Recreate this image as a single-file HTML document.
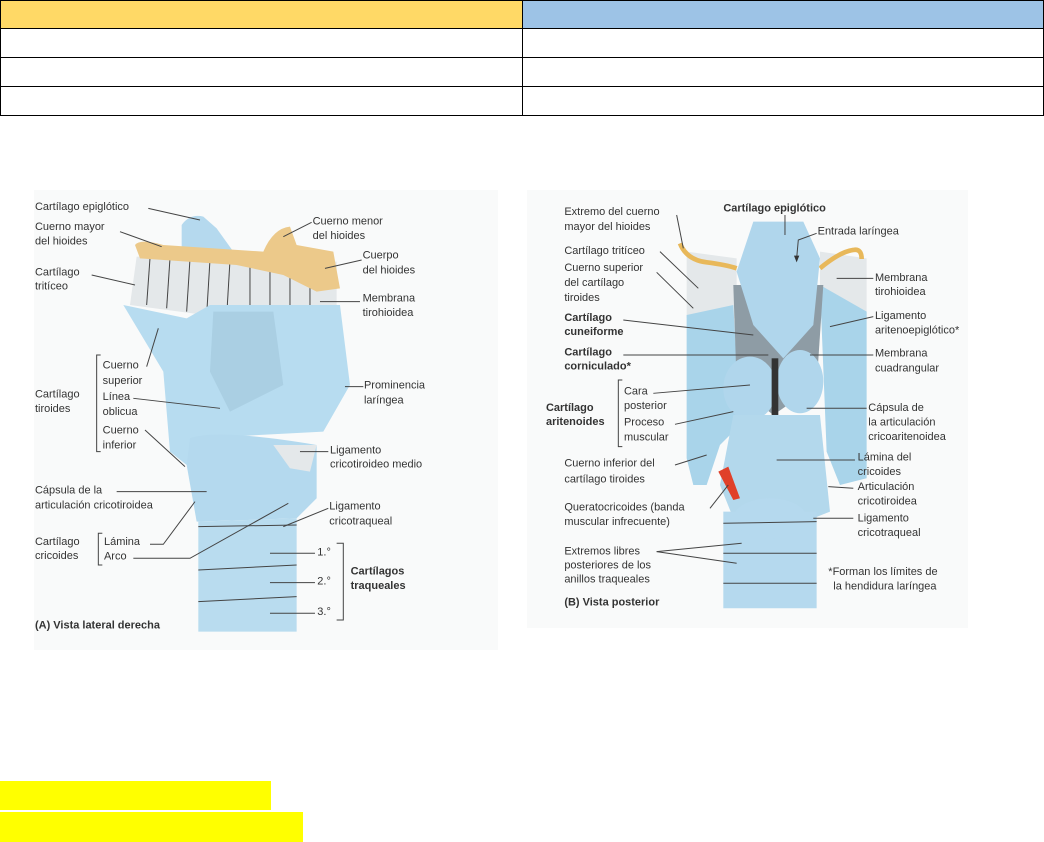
<!DOCTYPE html>
<html><head><meta charset="utf-8"><style>
html,body{margin:0;padding:0;background:#fff;width:1044px;height:842px;overflow:hidden;position:relative;font-family:"Liberation Sans",sans-serif}
.tb{position:absolute;left:0;top:0;width:1044px;border-collapse:collapse}
.tb td{border:1.5px solid #000;padding:0;height:27px}
.tb tr.r td{height:28px}
.hl{position:absolute;left:0;background:#ffff00}
svg{position:absolute;left:0;top:0}
text{font-family:"Liberation Sans",sans-serif;font-size:33px;fill:#333}
.b{font-weight:bold}
line,polyline{stroke:#444;stroke-width:3;fill:none}
</style></head><body>
<table class="tb"><tr><td style="width:521px;background:#ffd966"></td><td style="background:#9dc3e6"></td></tr>
<tr class="r"><td></td><td></td></tr><tr class="r"><td></td><td></td></tr><tr class="r"><td></td><td></td></tr></table>
<div class="hl" style="top:781px;width:271px;height:29px"></div>
<div class="hl" style="top:812px;width:303px;height:30px"></div>
<svg width="1044" height="842">
<rect x="34" y="190" width="464" height="460" fill="#f9fafa"/>
<rect x="527" y="190" width="441" height="438" fill="#f9fafa"/>
<g transform="translate(30,185) scale(0.3333)">
<path d="M455,120 Q480,85 520,95 L560,130 L610,200 L455,200 Z" fill="#b5d9ee"/>
<path d="M320,215 L920,230 L920,360 L600,400 L300,360 Z" fill="#e4e8ea"/>
<g stroke="#c8cfd3" stroke-width="3"><line x1="360" y1="220" x2="350" y2="360"/><line x1="420" y1="220" x2="410" y2="370"/><line x1="480" y1="222" x2="470" y2="380"/><line x1="540" y1="224" x2="530" y2="390"/><line x1="600" y1="226" x2="590" y2="395"/><line x1="660" y1="228" x2="660" y2="380"/><line x1="720" y1="240" x2="720" y2="370"/><line x1="780" y1="260" x2="780" y2="365"/><line x1="840" y1="280" x2="840" y2="360"/></g>
<path d="M315,180 Q330,160 400,180 L700,200 Q730,130 780,125 L800,180 L910,200 L930,310 L860,320 L760,270 L620,240 L330,220 Z" fill="#ecc98a"/>
<path d="M280,360 L470,400 L540,360 L930,360 L960,600 L880,740 L500,760 L470,840 L420,800 L400,560 Z" fill="#b7dcf0"/>
<path d="M550,380 L730,380 L760,600 L600,680 L540,560 Z" fill="#aacfe3"/>
<path d="M480,760 Q560,730 860,780 L860,940 L800,1000 L500,1010 L470,840 Z" fill="#b4d9ee"/>
<path d="M730,780 L860,780 L840,860 L780,850 Z" fill="#e4e8ea"/>
<path d="M505,1010 L800,1000 L800,1340 L505,1340 Z" fill="#b9dcef"/>
<g stroke="#9aa5ac" stroke-width="10"><line x1="505" y1="1025" x2="800" y2="1020"/><line x1="505" y1="1155" x2="800" y2="1140"/><line x1="505" y1="1250" x2="800" y2="1235"/></g>
<text x="15" y="75">Cartílago epiglótico</text><line x1="355" y1="70" x2="510" y2="105"/>
<text x="15" y="135">Cuerno mayor</text><text x="15" y="178">del hioides</text><line x1="270" y1="140" x2="395" y2="185"/>
<text x="15" y="272">Cartílago</text><text x="15" y="313">tritíceo</text><line x1="185" y1="270" x2="315" y2="300"/>
<text x="848" y="118">Cuerno menor</text><text x="848" y="162">del hioides</text><line x1="845" y1="112" x2="760" y2="155"/>
<text x="998" y="220">Cuerpo</text><text x="998" y="265">del hioides</text><line x1="995" y1="225" x2="885" y2="250"/>
<text x="998" y="350">Membrana</text><text x="998" y="393">tirohioidea</text><line x1="990" y1="350" x2="870" y2="350"/>
<text x="1002" y="610">Prominencia</text><text x="1002" y="655">laríngea</text><line x1="1000" y1="605" x2="945" y2="605"/>
<text x="900" y="805">Ligamento</text><text x="900" y="848">cricotiroideo medio</text><line x1="895" y1="800" x2="810" y2="800"/>
<text x="898" y="973">Ligamento</text><text x="898" y="1018">cricotraqueal</text><line x1="895" y1="970" x2="760" y2="1025"/>
<polyline points="212,510 200,510 200,800 212,800"/>
<text x="218" y="550">Cuerno</text><text x="218" y="597">superior</text><text x="218" y="645">Línea</text><text x="218" y="690">oblicua</text><text x="218" y="745">Cuerno</text><text x="218" y="790">inferior</text>
<text x="15" y="638">Cartílago</text><text x="15" y="681">tiroides</text>
<line x1="350" y1="545" x2="385" y2="430"/><line x1="310" y1="640" x2="570" y2="670"/><line x1="345" y1="735" x2="465" y2="845"/>
<text x="15" y="925">Cápsula de la</text><text x="15" y="970">articulación cricotiroidea</text><line x1="260" y1="920" x2="530" y2="920"/>
<text x="15" y="1080">Cartílago</text><text x="15" y="1122">cricoides</text>
<polyline points="217,1045 205,1045 205,1140 217,1140"/>
<text x="222" y="1080">Lámina</text><text x="222" y="1124">Arco</text>
<polyline points="360,1078 400,1078 495,950"/><polyline points="310,1120 480,1120 775,955"/>
<text x="862" y="1112">1.°</text><text x="862" y="1198">2.°</text><text x="862" y="1290">3.°</text>
<line x1="720" y1="1105" x2="855" y2="1105"/><line x1="720" y1="1193" x2="855" y2="1193"/><line x1="720" y1="1285" x2="855" y2="1285"/>
<polyline points="920,1075 940,1075 940,1305 920,1305"/>
<text x="962" y="1168" class="b">Cartílagos</text><text x="962" y="1212" class="b">traqueales</text>
<text x="15" y="1330" class="b">(A) Vista lateral derecha</text>
</g>
<g transform="translate(520,185) scale(0.3333)">
<path d="M500,200 L650,220 L650,400 L500,400 Z" fill="#e4e8ea"/><path d="M900,200 L1040,220 L1040,400 L900,400 Z" fill="#e4e8ea"/>
<path d="M480,175 Q500,225 560,232 Q620,240 650,250" stroke="#e8b85a" stroke-width="14" fill="none"/>
<path d="M900,250 Q960,200 1000,195 Q1025,190 1025,222" stroke="#e8b85a" stroke-width="14" fill="none"/>
<path d="M500,390 L640,360 L660,720 L600,780 L560,900 L520,900 L500,820 Z" fill="#a9d4ea"/>
<path d="M900,300 L1040,380 L1040,880 L960,900 L920,800 Z" fill="#a9d4ea"/>
<path d="M640,300 L910,300 L890,600 L760,690 L650,600 Z" fill="#8e9ca5"/>
<path d="M700,110 L850,110 L900,220 L880,420 L790,520 L700,420 L650,260 Z" fill="#b0d6ec"/>
<ellipse cx="690" cy="610" rx="80" ry="95" fill="#b0d6ec"/><ellipse cx="840" cy="590" rx="70" ry="95" fill="#b0d6ec"/>
<rect x="755" y="520" width="20" height="170" fill="#333"/>
<path d="M640,690 L900,690 L930,980 L880,1000 L640,1000 L600,900 Z" fill="#b3d8ec"/>
<path d="M610,980 L890,980 L890,1270 L610,1270 Z" fill="#b5d9ee"/>
<ellipse cx="750" cy="1000" rx="110" ry="60" fill="#b5d9ee"/>
<g stroke="#8f9aa1" stroke-width="10"><line x1="610" y1="1015" x2="890" y2="1010"/><line x1="610" y1="1105" x2="890" y2="1105"/><line x1="610" y1="1195" x2="890" y2="1195"/></g>
<polygon points="595,860 625,845 660,940 640,945" fill="#e0402a"/>
<text x="133" y="90">Extremo del cuerno</text><text x="133" y="135">mayor del hioides</text><line x1="470" y1="90" x2="490" y2="190"/>
<text x="133" y="207">Cartílago tritíceo</text><line x1="420" y1="200" x2="535" y2="310"/>
<text x="133" y="258">Cuerno superior</text><text x="133" y="303">del cartílago</text><text x="133" y="348">tiroides</text><line x1="410" y1="262" x2="520" y2="370"/>
<text x="133" y="408" class="b">Cartílago</text><text x="133" y="450" class="b">cuneiforme</text><line x1="310" y1="405" x2="700" y2="450"/>
<text x="133" y="512" class="b">Cartílago</text><text x="133" y="553" class="b">corniculado*</text><line x1="310" y1="510" x2="745" y2="510"/>
<text x="78" y="678" class="b">Cartílago</text><text x="78" y="720" class="b">aritenoides</text>
<polyline points="307,585 295,585 295,785 307,785"/>
<text x="312" y="628">Cara</text><text x="312" y="672">posterior</text><text x="312" y="722">Proceso</text><text x="312" y="766">muscular</text>
<line x1="400" y1="625" x2="690" y2="600"/><line x1="465" y1="718" x2="640" y2="680"/>
<text x="133" y="845">Cuerno inferior del</text><text x="133" y="892">cartílago tiroides</text><line x1="465" y1="840" x2="560" y2="810"/>
<text x="133" y="977">Queratocricoides (banda</text><text x="133" y="1020">muscular infrecuente)</text><line x1="570" y1="970" x2="625" y2="900"/>
<text x="133" y="1108">Extremos libres</text><text x="133" y="1150">posteriores de los</text><text x="133" y="1193">anillos traqueales</text>
<line x1="410" y1="1100" x2="665" y2="1075"/><line x1="410" y1="1100" x2="650" y2="1135"/>
<text x="133" y="1262" class="b">(B) Vista posterior</text>
<text x="610" y="80" class="b">Cartílago epiglótico</text><line x1="795" y1="90" x2="795" y2="150"/>
<text x="893" y="148">Entrada laríngea</text><polyline points="890,145 835,165 830,220"/><polygon points="822,212 838,212 830,232" fill="#333"/>
<text x="1065" y="288">Membrana</text><text x="1065" y="330">tirohioidea</text><line x1="1060" y1="280" x2="950" y2="280"/>
<text x="1065" y="402">Ligamento</text><text x="1065" y="445">aritenoepiglótico*</text><line x1="1060" y1="395" x2="930" y2="425"/>
<text x="1065" y="515">Membrana</text><text x="1065" y="560">cuadrangular</text><line x1="1060" y1="510" x2="870" y2="510"/>
<text x="1045" y="678">Cápsula de</text><text x="1045" y="722">la articulación</text><text x="1045" y="765">cricoaritenoidea</text><line x1="1040" y1="670" x2="860" y2="670"/>
<text x="1013" y="827">Lámina del</text><text x="1013" y="870">cricoides</text><line x1="1005" y1="825" x2="770" y2="825"/>
<text x="1013" y="915">Articulación</text><text x="1013" y="958">cricotiroidea</text><line x1="1000" y1="910" x2="925" y2="905"/>
<text x="1013" y="1010">Ligamento</text><text x="1013" y="1053">cricotraqueal</text><line x1="1000" y1="1000" x2="880" y2="1000"/>
<text x="925" y="1170">*Forman los límites de</text><text x="940" y="1213">la hendidura laríngea</text>
</g>
</svg>
</body></html>
